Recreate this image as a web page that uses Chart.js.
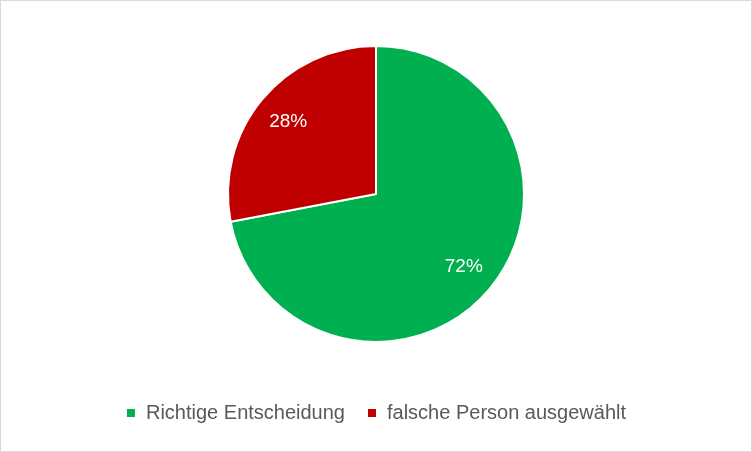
<!DOCTYPE html>
<html><head><meta charset="utf-8">
<script src="https://cdn.jsdelivr.net/npm/chart.js@4/dist/chart.umd.min.js"></script>
<style>
html,body{margin:0;padding:0;background:#fff;}
#wrap{position:absolute;left:0;top:0;width:750px;height:450px;border:1px solid #d9d9d9;}
</style></head><body>
<div id="wrap"><canvas id="c" width="750" height="450"></canvas></div>
<script>
const categories = ["Richtige Entscheidung", "falsche Person ausgewählt"];
const values = [72, 28];
const colors = ["#00B050", "#C00000"];

const labelPlugin = {
  id: 'pctLabels',
  afterDatasetsDraw(chart) {
    const ctx = chart.ctx;
    const meta = chart.getDatasetMeta(0);
    ctx.save();
    ctx.fillStyle = '#ffffff';
    ctx.font = '19px "Liberation Sans", Arial, sans-serif';
    ctx.textAlign = 'center';
    ctx.textBaseline = 'middle';
    meta.data.forEach((arc, i) => {
      const p = arc.getProps(['x','y','startAngle','endAngle','outerRadius'], true);
      const a = (p.startAngle + p.endAngle) / 2;
      const r = p.outerRadius * 0.77;
      ctx.fillText(values[i] + '%', p.x + Math.cos(a) * r, p.y + Math.sin(a) * r);
    });
    ctx.restore();
  }
};

new Chart(document.getElementById('c'), {
  type: 'pie',
  data: { labels: categories, datasets: [{ data: values, backgroundColor: colors, borderColor: '#ffffff', borderWidth: 2, radius: 148 }] },
  options: {
    responsive: false, animation: false,
    layout: { padding: { top: 6, bottom: 18 } },
    plugins: {
      tooltip: { enabled: false },
      legend: { position: 'bottom',
        labels: { boxWidth: 10, boxHeight: 10, padding: 22, color: '#595959',
          font: { size: 20, family: '"Liberation Sans", Arial, sans-serif' } } }
    }
  },
  plugins: [labelPlugin]
});
</script>
</body></html>
